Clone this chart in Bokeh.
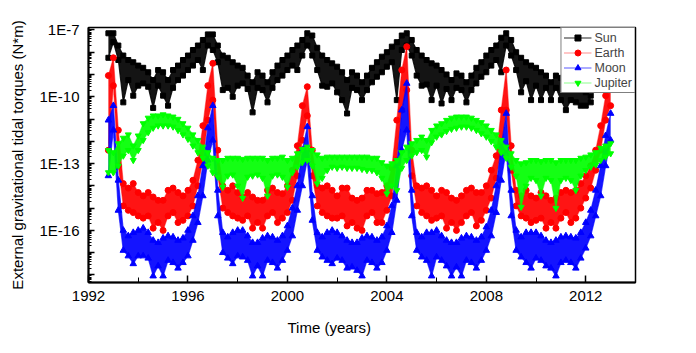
from bokeh.plotting import figure
from bokeh.models import (Range1d, FixedTicker, CustomJSTickFormatter, Legend,
                          LegendItem, Title)
from bokeh.embed import file_html
from bokeh.resources import INLINE

# ---------------- data (time in years, values as log10 of torque in N*m) ----------------
years = [1992.8,
         1993.0, 1993.2, 1993.4, 1993.6, 1993.8,
         1994.0, 1994.2, 1994.4, 1994.6, 1994.8,
         1995.0, 1995.2, 1995.4, 1995.6, 1995.8,
         1996.0, 1996.2, 1996.4, 1996.6, 1996.8,
         1997.0, 1997.2, 1997.4, 1997.6, 1997.8,
         1998.0, 1998.2, 1998.4, 1998.6, 1998.8,
         1999.0, 1999.2, 1999.4, 1999.6, 1999.8,
         2000.0, 2000.2, 2000.4, 2000.6, 2000.8,
         2001.0, 2001.2, 2001.4, 2001.6, 2001.8,
         2002.0, 2002.2, 2002.4, 2002.6, 2002.8,
         2003.0, 2003.2, 2003.4, 2003.6, 2003.8,
         2004.0, 2004.2, 2004.4, 2004.6, 2004.8,
         2005.0, 2005.2, 2005.4, 2005.6, 2005.8,
         2006.0, 2006.2, 2006.4, 2006.6, 2006.8,
         2007.0, 2007.2, 2007.4, 2007.6, 2007.8,
         2008.0, 2008.2, 2008.4, 2008.6, 2008.8,
         2009.0, 2009.2, 2009.4, 2009.6, 2009.8,
         2010.0, 2010.2, 2010.4, 2010.6, 2010.8,
         2011.0, 2011.2, 2011.4, 2011.6, 2011.8,
         2012.0, 2012.2, 2012.4, 2012.6, 2012.8,
         2013.0]

# Sun: upper / lower edge of the dense band (log10)
sun_hi_log = [-7.15, -7.15, -7.70, -8.15, -8.35, -8.45, -8.60, -8.70, -8.90, -9.25,
              -8.80, -8.90, -9.25, -8.80, -8.60, -8.35, -8.15, -7.90, -7.70, -7.45,
              -7.20, -7.20, -7.70, -8.15, -8.25, -8.45, -8.60, -8.70, -9.05, -9.35,
              -8.90, -9.05, -9.35, -8.90, -8.60, -8.35, -8.15, -7.90, -7.70, -7.45,
              -7.15, -7.25, -7.80, -8.15, -8.35, -8.50, -8.65, -8.90, -9.25, -8.90,
              -9.05, -9.35, -9.05, -8.70, -8.45, -8.20, -8.00, -7.75, -7.55, -7.25,
              -7.15, -7.45, -7.90, -8.15, -8.35, -8.50, -8.60, -8.80, -9.00, -9.25,
              -8.95, -9.05, -9.35, -9.05, -8.70, -8.45, -8.15, -7.90, -7.70, -7.35,
              -7.15, -7.45, -8.00, -8.25, -8.45, -8.60, -8.70, -8.90, -9.05, -9.35,
              -9.05, -9.15, -9.50, -9.50, -9.60, -9.70, -9.80, -9.95]
sun_lo_log = [-8.25, -7.55, -8.35, -10.25, -9.25, -9.95, -9.50, -9.40, -9.55, -10.50,
              -9.50, -9.95, -10.40, -9.60, -9.25, -9.05, -8.80, -8.60, -8.35, -8.80,
              -7.70, -7.90, -8.45, -9.70, -9.60, -10.00, -9.50, -9.40, -9.65, -10.70,
              -9.60, -9.70, -10.25, -9.60, -9.25, -9.05, -8.80, -8.60, -8.80, -8.15,
              -7.70, -8.15, -8.80, -9.50, -9.55, -9.40, -9.80, -10.15, -10.75, -9.60,
              -9.70, -10.15, -9.70, -9.35, -9.10, -8.90, -8.65, -8.45, -10.15, -7.90,
              -7.70, -8.15, -9.05, -9.50, -9.45, -10.15, -9.50, -10.30, -9.65, -10.15,
              -9.60, -9.70, -10.25, -9.70, -9.40, -9.10, -8.90, -8.60, -8.35, -8.90,
              -7.70, -8.15, -8.80, -9.80, -9.30, -10.15, -9.50, -10.15, -9.60, -10.15,
              -9.60, -10.15, -10.60, -10.15, -10.25, -10.40, -10.40, -10.25]

earth_hi_log = [-9.05, -8.25, -11.50, -13.90, -14.10, -13.90, -14.30, -14.45, -14.30, -14.50,
                -14.65, -14.65, -14.20, -14.10, -14.30, -14.45, -14.20, -13.75, -12.85, -11.30,
                -9.50, -8.50, -12.40, -14.00, -14.20, -14.00, -14.30, -14.50, -14.30, -14.50,
                -14.65, -14.65, -14.20, -14.10, -14.30, -14.35, -14.00, -13.30, -12.20, -10.40,
                -9.55, -12.40, -14.00, -14.10, -14.00, -14.20, -14.45, -14.10, -14.10, -14.55,
                -14.65, -14.55, -14.20, -14.20, -14.35, -14.30, -14.00, -13.20, -11.05, -8.80,
                -7.75, -12.40, -14.00, -14.10, -14.00, -14.20, -14.45, -14.20, -14.30, -14.55,
                -14.65, -14.45, -14.20, -14.10, -14.30, -14.30, -14.00, -13.30, -12.65, -10.60,
                -8.80, -12.20, -14.20, -14.45, -14.20, -14.45, -14.55, -14.30, -14.45, -14.65,
                -14.55, -14.30, -14.20, -14.30, -14.20, -13.90, -13.55, -13.10, -12.40, -11.30,
                -9.95, -9.60]
earth_lo_log = [-12.40, -9.50, -13.10, -14.90, -15.10, -15.20, -15.35, -15.45, -15.35, -15.90,
                -15.65, -16.00, -15.35, -15.20, -15.65, -15.55, -15.35, -14.90, -14.00, -12.85,
                -11.05, -10.15, -13.55, -15.00, -15.20, -15.35, -15.45, -15.55, -15.35, -15.90,
                -15.65, -15.90, -15.35, -15.20, -15.65, -15.45, -15.20, -14.65, -13.55, -11.95,
                -10.85, -13.55, -14.90, -15.20, -15.35, -15.45, -15.45, -15.35, -15.80, -15.65,
                -15.90, -16.00, -15.35, -15.20, -15.65, -15.65, -15.10, -14.45, -12.85, -10.60,
                -9.70, -13.55, -14.90, -15.20, -15.35, -15.55, -15.45, -15.35, -15.90, -15.65,
                -16.00, -15.65, -15.35, -15.20, -15.80, -15.55, -15.10, -14.55, -13.65, -12.40,
                -10.60, -13.30, -14.90, -15.35, -15.45, -15.65, -15.55, -15.45, -15.90, -15.65,
                -15.90, -15.45, -15.20, -15.65, -15.45, -15.00, -14.55, -14.10, -13.30, -12.40,
                -11.05, -10.40]

moon_hi_log = [-11.05, -10.40, -13.75, -16.00, -16.25, -16.10, -16.00, -15.90, -16.10, -16.45,
               -16.55, -16.35, -16.25, -16.30, -16.45, -16.35, -16.00, -15.35, -14.45, -13.10,
               -11.40, -10.40, -14.20, -16.10, -16.30, -16.10, -16.00, -16.00, -16.25, -16.55,
               -16.55, -16.35, -16.25, -16.30, -16.45, -16.25, -15.80, -15.00, -14.00, -12.40,
               -11.35, -14.45, -16.10, -16.30, -16.10, -16.00, -16.10, -16.25, -16.45, -16.55,
               -16.55, -16.35, -16.25, -16.30, -16.45, -16.30, -15.80, -14.90, -13.10, -10.60,
               -9.40, -14.20, -16.10, -16.30, -16.10, -16.10, -16.00, -16.25, -16.45, -16.55,
               -16.55, -16.35, -16.25, -16.30, -16.45, -16.30, -15.85, -15.10, -14.00, -12.20,
               -10.75, -14.20, -16.00, -16.30, -16.10, -16.10, -16.10, -16.25, -16.45, -16.55,
               -16.45, -16.30, -16.25, -16.30, -16.35, -16.10, -15.65, -15.10, -14.20, -13.10,
               -11.75, -10.75]
moon_lo_log = [-13.55, -11.50, -15.10, -16.90, -17.15, -17.50, -17.15, -17.15, -17.25, -18.05,
               -17.60, -18.05, -17.35, -17.45, -17.70, -17.45, -17.15, -16.45, -15.65, -14.45,
               -12.85, -11.95, -15.35, -17.00, -17.25, -17.50, -17.15, -17.20, -17.35, -18.05,
               -17.60, -18.05, -17.35, -17.45, -17.70, -17.35, -16.90, -16.25, -15.10, -14.00,
               -12.85, -15.55, -16.90, -17.20, -17.35, -17.50, -17.25, -17.35, -17.70, -17.65,
               -17.80, -18.05, -17.35, -17.45, -17.70, -17.45, -16.90, -16.10, -14.65, -12.40,
               -11.50, -15.35, -16.90, -17.20, -17.35, -18.05, -17.20, -17.35, -17.60, -18.05,
               -17.65, -18.05, -17.35, -17.45, -17.70, -17.35, -16.90, -16.25, -15.20, -13.75,
               -12.40, -15.35, -16.90, -17.20, -17.45, -17.70, -17.25, -17.35, -17.60, -17.70,
               -18.05, -17.45, -17.35, -17.45, -17.70, -17.25, -16.80, -16.25, -15.35, -14.45,
               -13.10, -11.95]

jupiter_hi_log = [-12.40, -12.50, -12.10, -11.85, -11.70, -12.20, -11.75, -11.20, -10.95, -10.85,
                  -10.85, -10.80, -10.85, -10.90, -11.00, -11.20, -11.40, -11.70, -11.95, -12.25,
                  -12.50, -12.75, -12.85, -12.85, -12.75, -12.75, -12.75, -12.80, -12.75, -12.75,
                  -12.75, -12.75, -12.85, -12.75, -12.75, -12.70, -12.85, -12.75, -12.55, -12.35,
                  -12.25, -12.40, -12.60, -12.75, -12.70, -12.70, -12.70, -12.70, -12.70, -12.70,
                  -12.70, -12.70, -12.70, -12.75, -12.75, -12.95, -13.10, -13.00, -12.85, -12.50,
                  -12.25, -12.10, -11.95, -11.80, -11.95, -11.50, -11.30, -11.20, -11.05, -10.95,
                  -10.90, -10.90, -10.90, -10.95, -11.05, -11.15, -11.30, -11.50, -11.70, -11.95,
                  -12.25, -12.55, -12.85, -13.00, -12.95, -12.85, -12.85, -12.90, -12.85, -12.85,
                  -12.95, -12.85, -12.85, -12.85, -12.85, -12.75, -12.70, -12.60, -12.50, -12.30,
                  -12.20, -12.10]
jupiter_lo_log = [-13.40, -13.40, -13.10, -12.65, -12.40, -12.85, -12.40, -11.95, -11.60, -11.40,
                  -11.30, -11.30, -11.30, -11.35, -11.50, -11.70, -11.90, -12.20, -12.50, -12.75,
                  -13.10, -13.40, -13.60, -14.05, -13.55, -13.50, -14.00, -14.55, -13.60, -13.55,
                  -13.50, -13.65, -14.45, -13.55, -13.50, -13.60, -14.05, -13.40, -13.15, -12.95,
                  -12.85, -13.10, -13.90, -13.65, -13.30, -13.15, -13.20, -13.15, -13.20, -13.20,
                  -13.20, -13.25, -13.30, -13.30, -13.40, -13.65, -14.35, -14.00, -14.20, -13.20,
                  -12.85, -12.65, -12.50, -12.40, -12.70, -12.05, -11.80, -11.70, -11.55, -11.45,
                  -11.40, -11.35, -11.35, -11.40, -11.50, -11.65, -11.80, -12.00, -12.25, -12.50,
                  -12.75, -13.15, -13.55, -14.95, -14.00, -13.65, -13.75, -14.45, -13.65, -13.75,
                  -15.00, -13.75, -13.65, -13.75, -14.20, -13.55, -13.30, -13.15, -13.05, -12.85,
                  -12.70, -12.55]

series_names = ["Sun", "Earth", "Moon", "Jupiter"]
x_ticks = [1992, 1996, 2000, 2004, 2008, 2012]
x_minor_ticks = [1994, 1998, 2002, 2006, 2010]
y_label_exps = [-7, -10, -13, -16]
y_tick_labels = ["1E-7", "1E-10", "1E-13", "1E-16"]

# ---------------- figure ----------------
FONT = "Liberation Sans"

p = figure(width=696, height=353, y_axis_type="log",
           x_range=Range1d(1992, 2014), y_range=Range1d(10 ** -18.34, 10 ** -6.89),
           output_backend="svg", toolbar_location=None,
           min_border_left=88, min_border_right=61, min_border_top=27, min_border_bottom=71)
p.background_fill_color = "white"
p.border_fill_color = "white"
p.xgrid.visible = False
p.ygrid.visible = False
p.outline_line_color = "black"
p.outline_line_width = 1.5

styles = [
    # color, line alpha, marker, size
    ("#000000", 0.85, "square", 5),
    ("#ff0000", 0.45, "circle", 6),
    ("#0000ff", 0.65, "triangle", 6.5),
    ("#00ff00", 0.45, "inverted_triangle", 6),
]
data = [
    (sun_hi_log, sun_lo_log),
    (earth_hi_log, earth_lo_log),
    (moon_hi_log, moon_lo_log),
    (jupiter_hi_log, jupiter_lo_log),
]

items = []
for name, (hi_log, lo_log), (color, lalpha, marker, size) in zip(series_names, data, styles):
    xs = years[:len(hi_log)]
    hi = [10 ** e for e in hi_log]
    lo = [10 ** e for e in lo_log]
    p.varea(x=xs, y1=lo, y2=hi, fill_color=color, fill_alpha=0.92)
    ln = p.line(xs, hi, line_color=color, line_alpha=lalpha, line_width=1.2)
    p.line(xs, lo, line_color=color, line_alpha=lalpha, line_width=1.2)
    sc = p.scatter(xs, hi, marker=marker, size=size, fill_color=color, line_color=color)
    p.scatter(xs, lo, marker=marker, size=size, fill_color=color, line_color=color)
    items.append(LegendItem(label=name, renderers=[ln, sc]))

legend = Legend(items=items, location="top_right", margin=0, padding=2, spacing=0,
                glyph_width=28, glyph_height=15, label_height=15, label_standoff=3,
                label_text_font=FONT, label_text_font_size="12.5px",
                border_line_color="black", border_line_width=1,
                background_fill_color="white", background_fill_alpha=1)
p.add_layout(legend, "center")

# ---------------- axes ----------------
p.xaxis.ticker = FixedTicker(ticks=x_ticks, minor_ticks=x_minor_ticks)
major_y = [10.0 ** k for k in range(-18, -6)]
minor_y = [m * 10.0 ** k for k in range(-19, -6) for m in range(2, 10)]
p.yaxis.ticker = FixedTicker(ticks=major_y, minor_ticks=minor_y)
p.yaxis.formatter = CustomJSTickFormatter(args=dict(exps=y_label_exps, labels=y_tick_labels), code="""
    const e = Math.round(Math.log10(tick));
    const i = exps.indexOf(e);
    return i >= 0 ? labels[i] : "";
""")

for ax in (p.xaxis, p.yaxis):
    ax.axis_line_color = "black"
    ax.axis_line_width = 2
    ax.major_tick_line_color = "black"
    ax.minor_tick_line_color = "black"
    ax.major_tick_line_width = 1.5
    ax.minor_tick_line_width = 1
    ax.major_tick_in = 6
    ax.major_tick_out = 0
    ax.minor_tick_in = 3
    ax.minor_tick_out = 0
    ax.major_label_text_font = FONT
    ax.major_label_text_font_size = "15px"
    ax.major_label_text_color = "black"
    ax.axis_label_text_font = FONT
    ax.axis_label_text_font_size = "15px"
    ax.axis_label_text_font_style = "normal"
    ax.axis_label_text_color = "black"

p.xaxis.major_tick_in = 7
p.xaxis.minor_tick_in = 5
p.xaxis.major_label_standoff = 8
p.yaxis.major_label_standoff = 9
p.yaxis.axis_label = "External gravitational tidal torques (N*m)"
p.yaxis.axis_label_standoff = 10

p.add_layout(Title(text="Time (years)", align="left", offset=199, standoff=26,
                   text_font=FONT, text_font_size="15px", text_font_style="normal",
                   text_color="black"), "below")

open("out.html", "w").write(file_html(p, INLINE))
